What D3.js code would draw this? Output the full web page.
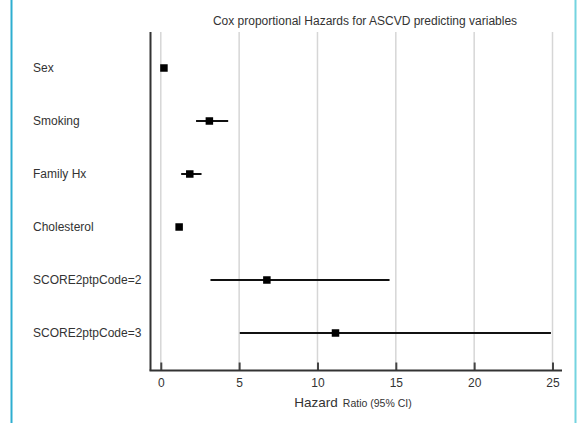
<!DOCTYPE html>
<html>
<head>
<meta charset="utf-8">
<script src="https://cdn.jsdelivr.net/npm/d3@7"></script>
<style>
  html, body { margin: 0; padding: 0; background: #fff; }
  svg { display: block; font-family: "Liberation Sans", Arial, sans-serif; }
</style>
</head>
<body>
<svg id="chart" width="579" height="423"></svg>
<script>
// Cox model covariates, hazard ratios and 95% confidence bounds
const variables = ["Sex", "Smoking", "Family Hx", "Cholesterol", "SCORE2ptpCode=2", "SCORE2ptpCode=3"];
const hazardRatio = [0.2, 3.1, 1.85, 1.17, 6.77, 11.15];
const ciLower = [0.1, 2.25, 1.3, 1.0, 3.17, 5.04];
const ciUpper = [0.35, 4.3, 2.6, 1.35, 14.6, 24.9];
const xTicks = [0, 5, 10, 15, 20, 25];

const rows = variables.map((v, i) => ({ name: v, hr: hazardRatio[i], lo: ciLower[i], hi: ciUpper[i] }));

const svg = d3.select("#chart");

const plot = { left: 150.5, right: 562, top: 32, bottom: 370.5 };

const x = d3.scaleLinear().domain([0, 25]).range([160.8, 552.5]);
const y = d3.scalePoint().domain(variables).range([68, 333]);

// side frame lines
svg.append("line").attr("x1", 11.5).attr("x2", 11.5).attr("y1", 0).attr("y2", 423)
  .attr("stroke", "#2eaed0").attr("stroke-width", 2);
svg.append("line").attr("x1", 575.5).attr("x2", 575.5).attr("y1", 0).attr("y2", 423)
  .attr("stroke", "#74d4e0").attr("stroke-width", 2);

// title
svg.append("text")
  .attr("x", 365).attr("y", 25)
  .attr("text-anchor", "middle")
  .attr("font-size", 12)
  .attr("fill", "#333")
  .text("Cox proportional Hazards for ASCVD predicting variables");

// vertical gridlines
svg.append("g").selectAll("line").data(xTicks).join("line")
  .attr("x1", d => x(d)).attr("x2", d => x(d))
  .attr("y1", plot.top).attr("y2", plot.bottom)
  .attr("stroke", "#d6d6d6").attr("stroke-width", 1.5);

// x axis with inward ticks
const xAxis = d3.axisBottom(x).tickValues(xTicks).tickSizeInner(-8).tickSizeOuter(0).tickPadding(8);
const gx = svg.append("g").attr("transform", `translate(0,${plot.bottom})`).call(xAxis);
gx.select(".domain").remove();
gx.selectAll(".tick line").attr("stroke", "#444").attr("stroke-width", 2);
gx.selectAll(".tick text").attr("font-size", 12).attr("fill", "#333")
  .attr("font-family", "Liberation Sans, Arial, sans-serif");

// axis lines
svg.append("line").attr("x1", plot.left - 1).attr("x2", plot.right)
  .attr("y1", plot.bottom).attr("y2", plot.bottom)
  .attr("stroke", "#333").attr("stroke-width", 2);
svg.append("line").attr("x1", plot.left).attr("x2", plot.left)
  .attr("y1", plot.top).attr("y2", plot.bottom)
  .attr("stroke", "#333").attr("stroke-width", 2);

// axis title
const xt = svg.append("text").attr("x", 353).attr("y", 407)
  .attr("text-anchor", "middle").attr("fill", "#333");
xt.append("tspan").attr("font-size", 13.5).text("Hazard");
xt.append("tspan").attr("font-size", 10.5).attr("dx", 5).text("Ratio (95% CI)");

// row labels
svg.append("g").selectAll("text").data(rows).join("text")
  .attr("x", 33).attr("y", d => y(d.name))
  .attr("dy", "0.35em")
  .attr("font-size", 12)
  .attr("fill", "#333")
  .text(d => d.name);

// confidence intervals
svg.append("g").selectAll("line").data(rows).join("line")
  .attr("x1", d => x(d.lo)).attr("x2", d => x(d.hi))
  .attr("y1", d => y(d.name)).attr("y2", d => y(d.name))
  .attr("stroke", "#111").attr("stroke-width", 2);

// point estimates
const s = 7.5;
svg.append("g").selectAll("rect").data(rows).join("rect")
  .attr("x", d => x(d.hr) - s / 2).attr("y", d => y(d.name) - s / 2)
  .attr("width", s).attr("height", s)
  .attr("fill", "#000");
</script>
</body>
</html>
